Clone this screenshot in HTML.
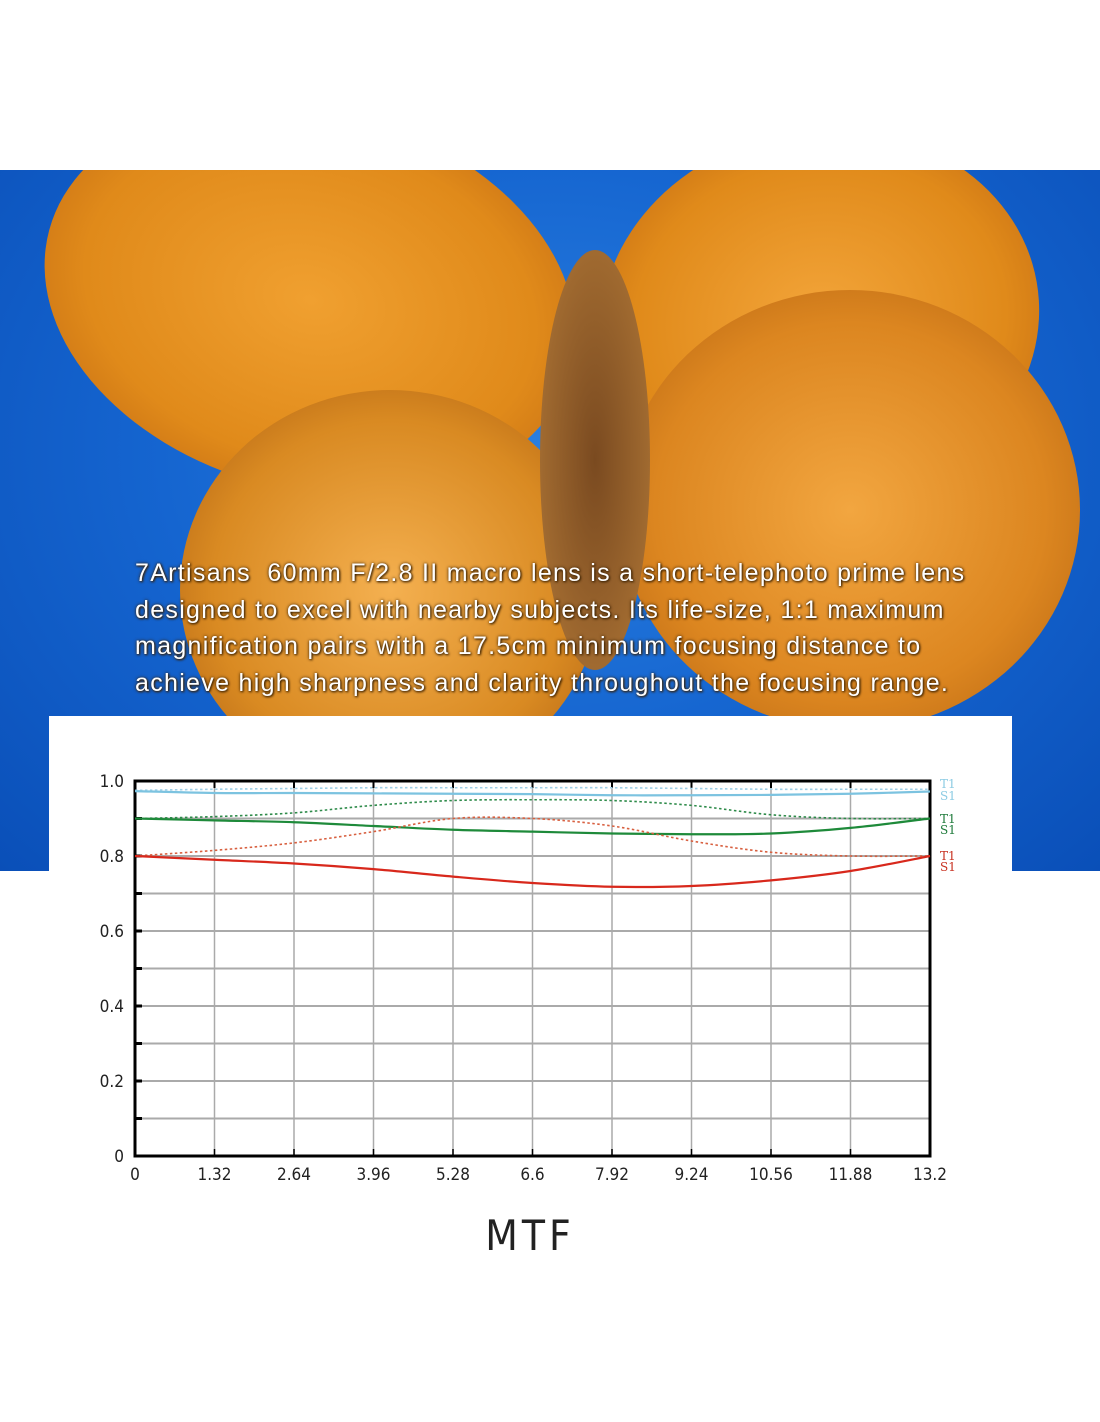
<!DOCTYPE html>
<html><head><meta charset="utf-8"><style>
html,body{margin:0;padding:0;background:#fff;}
body{width:1100px;height:1422px;position:relative;overflow:hidden;font-family:"Liberation Sans",sans-serif;}
#photo{position:absolute;left:0;top:170px;width:1100px;height:701px;overflow:hidden;
background:radial-gradient(ellipse at 50% 40%,#2a7fe0 0%,#1565d0 50%,#0a4fb8 100%);}
.wing{position:absolute;border-radius:50%;}
#caption{position:absolute;left:135px;width:950px;color:#fff;font-size:25px;line-height:36.5px;letter-spacing:1.3px;white-space:nowrap;text-shadow:0 0 3px #3a2000,1px 1px 2px #3a2000;}
#chartbox{position:absolute;left:49px;top:716px;width:963px;height:706px;background:#fff;}
svg{position:absolute;left:0;top:0;}
</style></head><body>
<div id="photo">
 <div class="wing" style="left:40px;top:-60px;width:540px;height:380px;background:radial-gradient(ellipse,#f0a030 0%,#e08a1a 60%,#b86010 100%);transform:rotate(15deg)"></div>
 <div class="wing" style="left:600px;top:-40px;width:440px;height:380px;background:radial-gradient(ellipse,#f3a53a 0%,#e08a1a 60%,#b86010 100%);transform:rotate(-10deg)"></div>
 <div class="wing" style="left:180px;top:220px;width:420px;height:400px;background:radial-gradient(ellipse,#f4b050 0%,#d98a22 60%,#a85a10 100%)"></div>
 <div class="wing" style="left:620px;top:120px;width:460px;height:440px;background:radial-gradient(ellipse,#f2a640 0%,#dc8620 60%,#b06010 100%)"></div>
 <div class="wing" style="left:540px;top:80px;width:110px;height:420px;background:radial-gradient(ellipse,#7a4a20 0%,#a06a30 70%,rgba(160,106,48,0) 100%)"></div>
 <div id="caption" style="top:385px">7Artisans&nbsp; 60mm F/2.8 II macro lens is a short-telephoto prime lens<br>designed to excel with nearby subjects. Its life-size, 1:1 maximum<br>magnification pairs with a 17.5cm minimum focusing distance to<br>achieve high sharpness and clarity throughout the focusing range.</div>
</div>
<div id="chartbox"></div>
<svg id="chart" width="1100" height="1422"></svg>
<script>
const xTicks=[0,1.32,2.64,3.96,5.28,6.6,7.92,9.24,10.56,11.88,13.2];
const yTicks=[0,0.2,0.4,0.6,0.8,1.0];
const xs=[0,1.32,2.64,3.96,5.28,6.6,7.92,9.24,10.56,11.88,13.2];
const blueT=[0.975,0.978,0.98,0.982,0.982,0.982,0.982,0.98,0.978,0.978,0.978];
const blueS=[0.973,0.968,0.968,0.967,0.966,0.965,0.962,0.962,0.963,0.966,0.972];
const greenT=[0.9,0.905,0.915,0.935,0.948,0.95,0.948,0.935,0.91,0.9,0.9];
const greenS=[0.9,0.895,0.89,0.88,0.87,0.865,0.86,0.858,0.86,0.875,0.9];
const redT=[0.8,0.815,0.835,0.865,0.9,0.9,0.88,0.84,0.81,0.8,0.8];
const redS=[0.8,0.79,0.78,0.765,0.745,0.728,0.718,0.72,0.735,0.76,0.8];
const NS='http://www.w3.org/2000/svg';
const svg=document.getElementById('chart');
const X=v=>135+v/13.2*795, Y=v=>1156-v*375;
function mk(t,a,p){const e=document.createElementNS(NS,t);for(const k in a)e.setAttribute(k,a[k]);(p||svg).appendChild(e);return e;}
for(let i=1;i<10;i++){const l=mk('line',{x1:135,x2:930,y1:Y(i/10),y2:Y(i/10),stroke:'#aaa','stroke-width':2});

}
xTicks.forEach(v=>{const l=mk('line',{x1:X(v),x2:X(v),y1:781,y2:1156,stroke:'#aaa','stroke-width':1.5});


const t=mk('text',{x:X(v),y:1180,'text-anchor':'middle','font-size':17,fill:'#222','font-family':'DejaVu Sans Condensed, Liberation Sans Narrow, sans-serif'});t.textContent=v;


mk('line',{x1:X(v),x2:X(v),y1:781,y2:788,stroke:'#000','stroke-width':2});
mk('line',{x1:X(v),x2:X(v),y1:1149,y2:1156,stroke:'#000','stroke-width':1.5});});
yTicks.forEach(v=>{const t=mk('text',{x:124,y:Y(v)+6,'text-anchor':'end','font-size':17,fill:'#222','font-family':'DejaVu Sans Condensed, sans-serif'});t.textContent=v===0?'0':v.toFixed(1);

});
for(let i=0;i<=10;i++)mk('line',{x1:135,x2:142,y1:Y(i/10),y2:Y(i/10),stroke:'#000','stroke-width':3});
const frame=mk('rect',{x:135,y:781,width:795,height:375,fill:'none',stroke:'#000','stroke-width':3});


function path(arr){const p=xs.map((x,i)=>[X(x),Y(arr[i])]);let d='M'+p[0];for(let i=0;i<p.length-1;i++){const p0=p[i-1]||p[i],p1=p[i],p2=p[i+1],p3=p[i+2]||p2;
d+=' C'+(p1[0]+(p2[0]-p0[0])/6)+','+(p1[1]+(p2[1]-p0[1])/6)+' '+(p2[0]-(p3[0]-p1[0])/6)+','+(p2[1]-(p3[1]-p1[1])/6)+' '+p2;}return d;}
[[blueT,'#9fd0e8',true,'blue-t-line'],[blueS,'#7cc3e0',false,'blue-s-line'],[greenT,'#2e8b4a',true,'green-t-line'],[greenS,'#1e8a3a',false,'green-s-line'],[redT,'#d86040',true,'red-t-line'],[redS,'#d8281c',false,'red-s-line']].forEach(s=>{
const e=mk('path',{d:path(s[0]),fill:'none',stroke:s[1],'stroke-width':s[2]?1.6:2.2,'stroke-dasharray':s[2]?'2.5 2.5':'none'});

});
[['T1',783,'#8ccbe3'],['S1',795,'#8ccbe3'],['T1',818,'#1e7a3a'],['S1',829,'#1e7a3a'],['T1',855,'#c83020'],['S1',866,'#c83020']].forEach(l=>{
const t=mk('text',{x:940,y:l[1]+5,'font-size':12,fill:l[2],'font-family':'DejaVu Serif, serif'});t.textContent=l[0];

});
const ti=mk('text',{x:530,y:1250,'text-anchor':'middle','font-size':42,fill:'#222','letter-spacing':4,'font-family':'DejaVu Sans Condensed, Liberation Sans, sans-serif'});ti.textContent='MTF';


</script>
</body></html>
